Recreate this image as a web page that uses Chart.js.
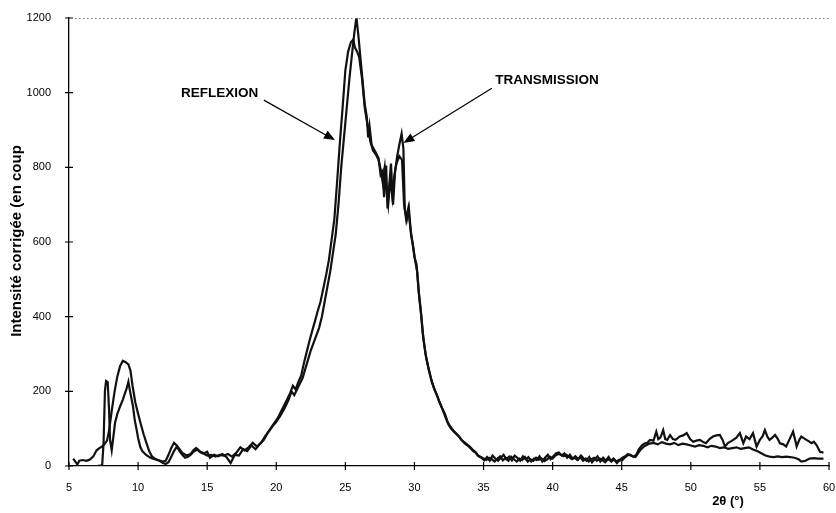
<!DOCTYPE html>
<html>
<head>
<meta charset="utf-8">
<script src="https://cdn.jsdelivr.net/npm/chart.js@4.4.1/dist/chart.umd.min.js"></script>
<style>
  body { margin: 0; background: #fff; }
  #wrap { width: 836px; height: 513px; }
</style>
</head>
<body>
<div id="wrap"><canvas id="xrdChart"></canvas></div>
<script>
// 2theta (deg) and corrected intensity (counts)
const reflexionAngle = [5.3, 5.5, 5.6, 5.75, 6.0, 6.25, 6.5, 6.75, 7.0, 7.2, 7.4, 7.6, 7.75, 7.9, 8.1, 8.3, 8.5, 8.7, 8.9, 9.1, 9.3, 9.45, 9.6, 9.8, 10.0, 10.2, 10.4, 10.6, 10.8, 11.0, 11.2, 11.5, 11.8, 12.0, 12.2, 12.4, 12.6, 12.8, 13.0, 13.2, 13.5, 13.8, 14.0, 14.2, 14.4, 14.6, 14.8, 15.0, 15.3, 15.6, 15.9, 16.2, 16.5, 16.8, 17.1, 17.4, 17.7, 18.0, 18.3, 18.6, 18.9, 19.2, 19.5, 19.8, 20.1, 20.4, 20.7, 21.0, 21.2, 21.4, 21.6, 21.8, 22.0, 22.2, 22.4, 22.6, 22.8, 23.0, 23.2, 23.4, 23.6, 23.8, 24.0, 24.2, 24.4, 24.6, 24.8, 25.0, 25.2, 25.4, 25.57, 25.7, 25.85, 26.0, 26.2, 26.4, 26.55, 26.7, 26.8, 27.0, 27.2, 27.4, 27.55, 27.7, 27.85, 28.0, 28.1, 28.25, 28.4, 28.55, 28.7, 28.9, 29.1, 29.25, 29.4, 29.55, 29.7, 29.85, 30.0, 30.15, 30.3, 30.45, 30.6, 30.8, 31.0, 31.2, 31.4, 31.6, 31.8, 32.0, 32.2, 32.4, 32.6, 32.8, 33.0, 33.2, 33.4, 33.6, 33.8, 34.0, 34.2, 34.4, 34.6, 34.8, 35.0, 35.2, 35.4, 35.6, 35.8, 36.0, 36.2, 36.4, 36.6, 36.8, 37.0, 37.2, 37.4, 37.6, 37.8, 38.0, 38.2, 38.4, 38.6, 38.8, 39.0, 39.2, 39.4, 39.6, 39.8, 40.0, 40.2, 40.4, 40.6, 40.8, 41.0, 41.2, 41.4, 41.6, 41.8, 42.0, 42.2, 42.4, 42.6, 42.8, 43.0, 43.2, 43.4, 43.6, 43.8, 44.0, 44.2, 44.4, 44.6, 44.8, 45.0, 45.2, 45.4, 45.6, 45.8, 46.0, 46.2, 46.4, 46.6, 46.8, 47.0, 47.3, 47.6, 47.9, 48.2, 48.5, 48.8, 49.1, 49.4, 49.7, 50.0, 50.3, 50.6, 50.9, 51.2, 51.5, 51.8, 52.1, 52.4, 52.7, 53.0, 53.3, 53.6, 53.9, 54.2, 54.5, 54.8, 55.1, 55.4, 55.7, 56.0, 56.3, 56.6, 56.9, 57.2, 57.5, 57.8, 58.0, 58.3, 58.6, 58.9, 59.2, 59.6];
const reflexionCounts = [20, 10, 4, 14, 16, 14, 17, 25, 42, 48, 52, 60, 68, 95, 150, 200, 240, 268, 282, 278, 272, 255, 215, 170, 140, 112, 85, 62, 40, 26, 20, 15, 12, 14, 30, 48, 62, 55, 45, 35, 28, 32, 42, 48, 40, 35, 32, 28, 30, 25, 30, 28, 32, 25, 35, 50, 42, 50, 62, 52, 62, 80, 95, 112, 128, 150, 172, 195, 215, 205, 225, 242, 275, 305, 335, 362, 388, 415, 440, 475, 510, 550, 605, 660, 760, 865, 960, 1060, 1110, 1135, 1142, 1120, 1110, 1095, 1040, 960, 925, 895, 870, 845, 835, 820, 795, 760, 800, 730, 700, 770, 720, 780, 810, 830, 820, 700, 660, 690, 640, 600, 560, 540, 470, 420, 355, 300, 265, 235, 210, 192, 172, 155, 140, 118, 105, 96, 88, 80, 70, 64, 58, 52, 44, 38, 28, 24, 20, 16, 22, 18, 12, 20, 26, 15, 22, 14, 25, 18, 12, 20, 16, 24, 12, 18, 14, 22, 17, 20, 13, 18, 25, 20, 28, 32, 30, 26, 30, 24, 18, 22, 16, 24, 14, 20, 12, 18, 22, 14, 20, 16, 10, 18, 14, 20, 12, 16, 14, 22, 28, 30, 26, 24, 35, 45, 52, 56, 60, 62, 58, 64, 60, 58, 62, 56, 60, 58, 55, 52, 56, 54, 50, 54, 52, 48, 50, 46, 48, 50, 46, 48, 50, 44, 40, 34, 28, 25, 24, 26, 24, 25, 24, 22, 18, 12, 14, 20, 21, 20, 20];

const transmissionAngle = [5.5, 6.0, 6.5, 7.0, 7.4, 7.5, 7.6, 7.68, 7.8, 7.9, 7.97, 8.09, 8.2, 8.33, 8.5, 8.7, 8.9, 9.05, 9.15, 9.3, 9.4, 9.5, 9.63, 9.75, 9.9, 10.0, 10.15, 10.3, 10.6, 10.9, 11.2, 11.5, 11.8, 12.0, 12.2, 12.4, 12.6, 12.8, 13.0, 13.2, 13.4, 13.6, 13.8, 14.0, 14.3, 14.5, 14.8, 15.0, 15.2, 15.5, 15.8, 16.1, 16.4, 16.7, 17.0, 17.3, 17.6, 17.9, 18.2, 18.5, 18.8, 19.1, 19.4, 19.7, 20.0, 20.3, 20.6, 20.9, 21.1, 21.3, 21.5, 21.7, 21.9, 22.1, 22.3, 22.5, 22.7, 22.9, 23.1, 23.3, 23.5, 23.7, 23.9, 24.1, 24.3, 24.5, 24.7, 24.9, 25.1, 25.3, 25.5, 25.65, 25.8, 25.95, 26.1, 26.25, 26.4, 26.55, 26.65, 26.75, 26.9, 27.05, 27.2, 27.4, 27.55, 27.7, 27.8, 27.95, 28.05, 28.15, 28.3, 28.45, 28.6, 28.75, 28.9, 29.07, 29.2, 29.3, 29.45, 29.6, 29.75, 29.9, 30.05, 30.2, 30.35, 30.5, 30.65, 30.85, 31.05, 31.25, 31.45, 31.65, 31.85, 32.05, 32.25, 32.45, 32.65, 32.85, 33.05, 33.25, 33.45, 33.65, 33.85, 34.05, 34.25, 34.45, 34.65, 34.85, 35.05, 35.25, 35.45, 35.65, 35.85, 36.05, 36.25, 36.45, 36.65, 36.85, 37.05, 37.25, 37.45, 37.65, 37.85, 38.05, 38.25, 38.45, 38.65, 38.85, 39.05, 39.25, 39.45, 39.65, 39.85, 40.05, 40.25, 40.45, 40.65, 40.85, 41.05, 41.25, 41.45, 41.65, 41.85, 42.05, 42.25, 42.45, 42.65, 42.85, 43.05, 43.25, 43.45, 43.65, 43.85, 44.05, 44.25, 44.45, 44.65, 44.85, 45.05, 45.25, 45.45, 45.65, 45.85, 46.05, 46.25, 46.45, 46.65, 46.85, 47.05, 47.3, 47.5, 47.65, 47.8, 48.0, 48.15, 48.3, 48.5, 48.7, 48.9, 49.2, 49.45, 49.7, 49.95, 50.17, 50.4, 50.66, 50.9, 51.1, 51.35, 51.6, 51.85, 52.1, 52.3, 52.47, 52.7, 52.9, 53.07, 53.3, 53.55, 53.8, 54.0, 54.25, 54.5, 54.76, 55.0, 55.2, 55.36, 55.55, 55.7, 55.9, 56.1, 56.3, 56.45, 56.7, 56.9, 57.1, 57.25, 57.4, 57.55, 57.66, 57.85, 58.0, 58.2, 58.37, 58.55, 58.73, 58.9, 59.1, 59.35, 59.6];
const transmissionCounts = [0, 0, 0, 0, 2, 60, 200, 228, 225, 150, 70, 42, 75, 115, 140, 160, 178, 195, 205, 226, 204, 185, 160, 125, 96, 75, 52, 40, 29, 22, 18, 15, 8, 5, 10, 25, 40, 52, 40, 30, 22, 25, 30, 38, 45, 38, 34, 38, 22, 30, 26, 32, 24, 8, 30, 28, 45, 40, 55, 45, 58, 70, 90, 105, 118, 135, 155, 178, 200, 190, 205, 220, 235, 260, 285, 310, 330, 350, 370, 400, 440, 480, 520, 570, 620, 700, 800, 880, 960, 1040, 1110, 1160, 1202, 1150, 1090, 1030, 970, 935, 880, 910, 860, 850, 840, 825, 780, 790, 720, 805, 690, 740, 810, 700, 790, 830, 860, 890, 850, 690, 660, 690, 620, 590, 550, 520, 450, 400, 340, 290, 255, 225, 205, 188, 168, 150, 130, 112, 100, 92, 85, 78, 68, 60, 55, 48, 40, 35, 26, 22, 15, 24, 14, 28, 20, 14, 22, 30, 18, 25, 15, 28, 22, 14, 26, 18, 24, 12, 20, 16, 26, 12, 22, 30, 18, 26, 34, 36, 28, 34, 22, 30, 20, 26, 18, 28, 20, 14, 24, 10, 18, 26, 12, 22, 14, 24, 12, 18, 8, 16, 22, 26, 32, 28, 25, 30, 45, 55, 60, 62, 70, 68, 92, 72, 76, 96, 72, 70, 83, 72, 70, 79, 82, 88, 72, 65, 68, 70, 64, 61, 72, 79, 82, 83, 70, 52, 62, 66, 70, 76, 88, 61, 79, 72, 88, 52, 70, 80, 96, 78, 70, 76, 83, 72, 61, 58, 52, 68, 80, 92, 70, 52, 70, 79, 74, 70, 66, 61, 65, 56, 38, 36];

const xTicks = { min: 5, max: 60, step: 5 };
const yTicks = { min: 0, max: 1200, step: 200 };

// labels with arrows, in data units: [text, label x, label y, arrow tail x, tail y, head x, head y]
const notes = [
  ['REFLEXION', 15.9, 999, 19.1, 980, 24.25, 873],
  ['TRANSMISSION', 39.6, 1034, 35.6, 1012, 29.2, 865]
];

function toPoints(xs, ys) {
  return xs.map((v, i) => ({ x: v, y: ys[i] }));
}

const decor = {
  id: 'decor',
  afterDraw(chart) {
    const { ctx, chartArea: a, scales: { x, y } } = chart;
    ctx.save();

    // dotted top frame
    ctx.strokeStyle = '#777';
    ctx.lineWidth = 1;
    ctx.setLineDash([1.5, 2.5]);
    ctx.beginPath();
    ctx.moveTo(a.left + 6, a.top + 0.5);
    ctx.lineTo(a.right, a.top + 0.5);
    ctx.stroke();
    ctx.setLineDash([]);

    // tick marks crossing the axes
    ctx.strokeStyle = '#000';
    ctx.lineWidth = 1.2;
    ctx.beginPath();
    y.ticks.forEach(t => {
      const py = y.getPixelForValue(t.value);
      ctx.moveTo(a.left - 4, py);
      ctx.lineTo(a.left + 4, py);
    });
    x.ticks.forEach(t => {
      const px = x.getPixelForValue(t.value);
      ctx.moveTo(px, a.bottom - 4);
      ctx.lineTo(px, a.bottom + 4);
    });
    ctx.stroke();

    // annotations
    ctx.fillStyle = '#000';
    ctx.font = 'bold 13.5px "Liberation Sans", Arial, sans-serif';
    ctx.textAlign = 'center';
    ctx.textBaseline = 'middle';
    notes.forEach(n => {
      ctx.fillText(n[0], x.getPixelForValue(n[1]), y.getPixelForValue(n[2]));
      const x0 = x.getPixelForValue(n[3]), y0 = y.getPixelForValue(n[4]);
      const x1 = x.getPixelForValue(n[5]), y1 = y.getPixelForValue(n[6]);
      const ang = Math.atan2(y1 - y0, x1 - x0);
      ctx.lineWidth = 1.2;
      ctx.beginPath();
      ctx.moveTo(x0, y0);
      ctx.lineTo(x1 - 8 * Math.cos(ang), y1 - 8 * Math.sin(ang));
      ctx.stroke();
      ctx.beginPath();
      ctx.moveTo(x1, y1);
      ctx.lineTo(x1 - 11 * Math.cos(ang) + 4.5 * Math.sin(ang), y1 - 11 * Math.sin(ang) - 4.5 * Math.cos(ang));
      ctx.lineTo(x1 - 11 * Math.cos(ang) - 4.5 * Math.sin(ang), y1 - 11 * Math.sin(ang) + 4.5 * Math.cos(ang));
      ctx.closePath();
      ctx.fill();
    });

    // axis titles
    ctx.font = 'bold 13px "Liberation Sans", Arial, sans-serif';
    ctx.fillText('2θ (°)', 728, 501);
    ctx.save();
    ctx.translate(17, 241);
    ctx.rotate(-Math.PI / 2);
    ctx.font = 'bold 15px "Liberation Sans", Arial, sans-serif';
    ctx.fillText('Intensité corrigée (en coup', 0, 0);
    ctx.restore();

    ctx.restore();
  }
};

const lineStyle = {
  borderColor: '#111',
  borderWidth: 2.2,
  pointRadius: 0,
  tension: 0,
  fill: false
};

const tickFont = { family: '"Liberation Sans", Arial, sans-serif', size: 11 };

new Chart(document.getElementById('xrdChart'), {
  type: 'line',
  data: {
    datasets: [
      Object.assign({ label: 'REFLEXION', data: toPoints(reflexionAngle, reflexionCounts) }, lineStyle),
      Object.assign({ label: 'TRANSMISSION', data: toPoints(transmissionAngle, transmissionCounts) }, lineStyle)
    ]
  },
  options: {
    responsive: true,
    maintainAspectRatio: false,
    animation: false,
    layout: { padding: { top: 18, right: 7, left: 0, bottom: 0 } },
    plugins: { legend: { display: false }, tooltip: { enabled: false } },
    scales: {
      x: {
        type: 'linear',
        min: xTicks.min,
        max: xTicks.max,
        afterFit: s => { s.height = 47; s.paddingLeft = 0; s.paddingRight = 0; },
        grid: { display: false },
        border: { display: true, color: '#000', width: 1.3 },
        ticks: {
          stepSize: xTicks.step,
          padding: 7,
          maxRotation: 0,
          color: '#000',
          font: tickFont,
          callback: v => String(v)
        }
      },
      y: {
        min: yTicks.min,
        max: yTicks.max,
        afterFit: s => { s.width = 69; s.paddingTop = 0; s.paddingBottom = 0; },
        grid: { display: false },
        border: { display: true, color: '#000', width: 1.3 },
        ticks: {
          stepSize: yTicks.step,
          padding: 10,
          color: '#000',
          font: tickFont,
          callback: v => String(v)
        }
      }
    }
  },
  plugins: [decor]
});
</script>
</body>
</html>
